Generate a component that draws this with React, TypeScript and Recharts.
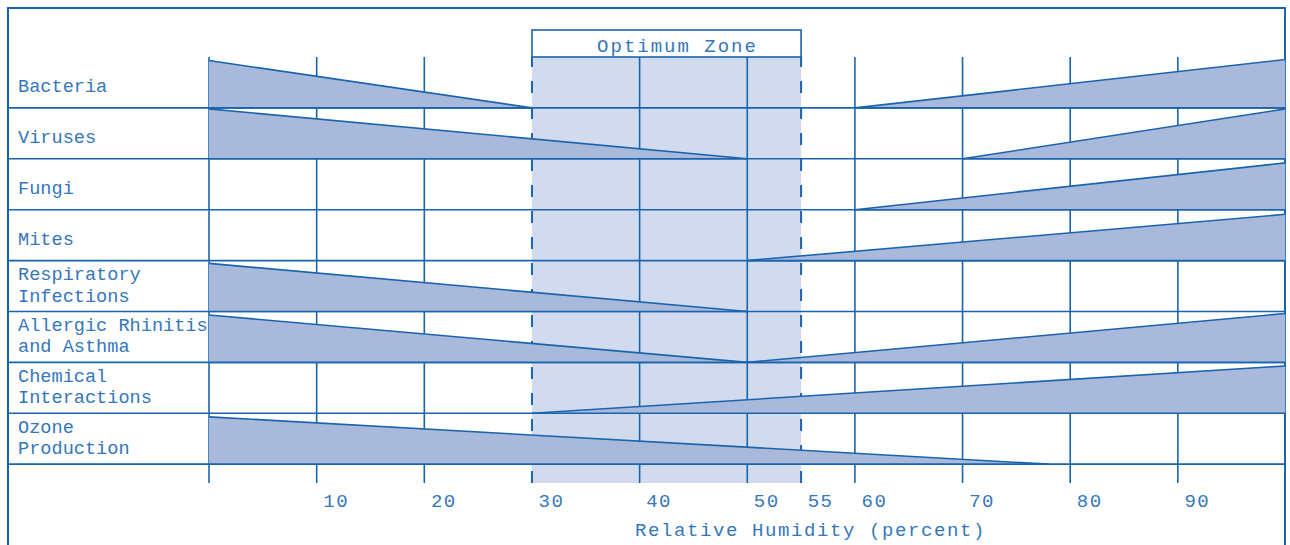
import React from "react";
import {
  ComposedChart,
  Area,
  XAxis,
  YAxis,
  ReferenceArea,
  ReferenceLine,
  Label,
} from "recharts";

const BLUE = "#1a64ae";
const TEXT = "#3577bb";
const WEDGE_FILL = "#a9b9dc";
const ZONE_FILL = "#d2dbee";
const FONT = "'Liberation Mono', 'Courier New', monospace";

// rows, top to bottom
const ROW_LINES = [
  ["Bacteria"],
  ["Viruses"],
  ["Fungi"],
  ["Mites"],
  ["Respiratory", "Infections"],
  ["Allergic Rhinitis", "and Asthma"],
  ["Chemical", "Interactions"],
  ["Ozone", "Production"],
];

// wedges: row, humidity where the effect fades to zero, humidity where it is strongest, peak (share of row)
const WEDGE_ROW = [0, 0, 1, 1, 2, 3, 4, 5, 5, 6, 7];
const WEDGE_ZERO = [30, 60, 50, 70, 60, 50, 50, 50, 50, 30, 78];
const WEDGE_MAX = [0, 100, 0, 100, 100, 100, 0, 0, 100, 100, 0];
const WEDGE_PEAK = [0.93, 0.95, 0.98, 0.98, 0.92, 0.91, 0.945, 0.93, 0.96, 0.93, 0.93];

const ZONE = [30, 55];
const GRID_X = [0, 10, 20, 40, 50, 60, 70, 80, 90];
const X_TICKS = [10, 20, 30, 40, 50, 55, 60, 70, 80, 90];
const LABEL_COLUMN = -18.72; // left edge of the label column, in humidity units
const Y_MAX = 8.37; // rows plus the strip under the last row

const rowBounds = ROW_LINES.map((_, i) => i + 1);

const wedges = WEDGE_ROW.map((row, i) => {
  const base = row + 1;
  const pts = [
    { h: WEDGE_MAX[i], band: [base, base - WEDGE_PEAK[i]] },
    { h: WEDGE_ZERO[i], band: [base, base] },
  ];
  return pts.sort((a, b) => a.h - b.h);
});

function makeRowLabel(lines: string[]) {
  return function RowLabel(props: any) {
    const { x, y, height } = props.viewBox;
    const cy = y + height / 2;
    const first = lines.length === 1 ? 9.5 : -6;
    return (
      <text fill={TEXT} fontFamily={FONT} fontSize={18.6} textAnchor="start">
        {lines.map((t, i) => (
          <tspan key={i} x={x + 10.5} y={cy + first + i * 21.5}>
            {t}
          </tspan>
        ))}
      </text>
    );
  };
}

function HumidityTick(props: any) {
  const { x, y, payload } = props;
  return (
    <text
      x={x + 19.5}
      y={y}
      dy="0.71em"
      fill={TEXT}
      fontFamily={FONT}
      fontSize={19}
      letterSpacing={1.5}
      textAnchor="middle"
    >
      {payload.value}
    </text>
  );
}

function ZoneBox(props: any) {
  const { x, y, width } = props.viewBox;
  return (
    <g>
      <rect x={x} y={y - 27} width={width} height={27} fill="#fff" stroke={BLUE} strokeWidth={1.6} />
      <text
        x={x + width / 2 + 11}
        y={y - 5.5}
        fill={TEXT}
        fontFamily={FONT}
        fontSize={19}
        letterSpacing={2}
        textAnchor="middle"
      >
        Optimum Zone
      </text>
    </g>
  );
}

function AxisTitle(props: any) {
  const { x, y, width, height } = props.viewBox;
  return (
    <text
      x={x + width / 2 + 164}
      y={y + height - 9}
      fill={TEXT}
      fontFamily={FONT}
      fontSize={19}
      letterSpacing={1.6}
      textAnchor="middle"
    >
      Relative Humidity (percent)
    </text>
  );
}

export default function App() {
  return (
    <div style={{ position: "absolute", left: 0, top: 0, width: 1290, height: 545 }}>
      <div
        style={{
          position: "absolute",
          left: 7,
          top: 7,
          width: 1275,
          height: 538,
          border: `2px solid ${BLUE}`,
          borderBottom: "none",
        }}
      />
      <div style={{ position: "absolute", left: 0, top: 0 }}>
        <ComposedChart
          width={1290}
          height={545}
          margin={{ top: 57, right: 4.5, bottom: 0, left: 7.5 }}
        >
          <XAxis
            type="number"
            dataKey="h"
            domain={[LABEL_COLUMN, 100]}
            allowDataOverflow
            ticks={X_TICKS}
            interval={0}
            tick={<HumidityTick />}
            tickLine={false}
            axisLine={false}
            tickSize={0}
            tickMargin={11}
            height={62}
          >
            <Label content={AxisTitle} />
          </XAxis>
          <YAxis type="number" domain={[0, Y_MAX]} allowDataOverflow reversed hide />
          <ReferenceArea
            x1={ZONE[0]}
            x2={ZONE[1]}
            fill={ZONE_FILL}
            fillOpacity={1}
            stroke="none"
            zIndex={50}
          >
            <Label content={ZoneBox} />
          </ReferenceArea>
          {ROW_LINES.map((lines, i) => (
            <ReferenceArea
              key={`row${i}`}
              x1={LABEL_COLUMN}
              x2={0}
              y1={i}
              y2={i + 1}
              fill="none"
              stroke="none"
              zIndex={50}
            >
              <Label content={makeRowLabel(lines)} />
            </ReferenceArea>
          ))}
          {GRID_X.map((v) => (
            <ReferenceLine key={`gx${v}`} x={v} stroke={BLUE} strokeWidth={1.6} zIndex={60} />
          ))}
          {ZONE.map((v) => (
            <ReferenceLine
              key={`zx${v}`}
              x={v}
              stroke={BLUE}
              strokeWidth={2}
              strokeDasharray="12 14"
              zIndex={60}
            />
          ))}
          {rowBounds.map((v) => (
            <ReferenceLine key={`gy${v}`} y={v} stroke={BLUE} strokeWidth={1.6} zIndex={60} />
          ))}
          {wedges.map((d, i) => (
            <Area
              key={`w${i}`}
              data={d}
              dataKey="band"
              type="linear"
              fill={WEDGE_FILL}
              fillOpacity={1}
              stroke={BLUE}
              strokeWidth={1.6}
              dot={false}
              activeDot={false}
              isAnimationActive={false}
              zIndex={100}
            />
          ))}
        </ComposedChart>
      </div>
    </div>
  );
}
